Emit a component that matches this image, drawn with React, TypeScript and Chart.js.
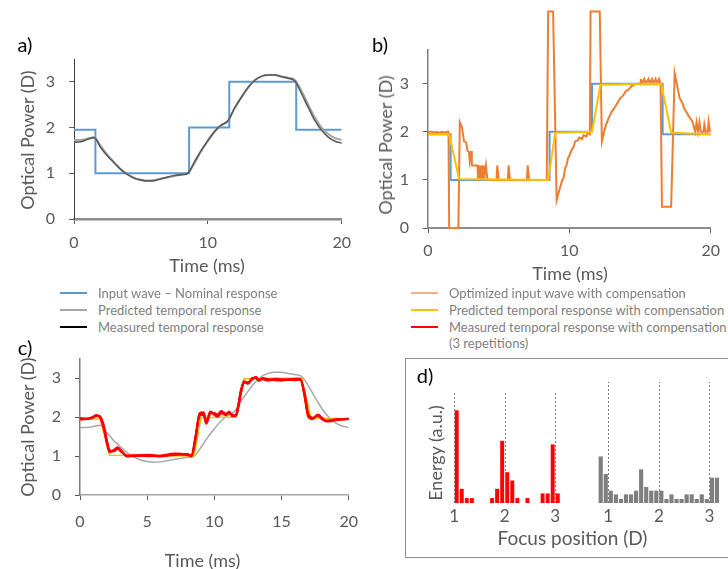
import React, { useEffect, useRef } from 'react';
import { Chart, registerables } from 'chart.js';
Chart.register(...registerables);

const FONT = 'Lato, "Open Sans", sans-serif';

// ---------- data ----------
const respTimes = [0, 0.5, 1, 1.5, 2, 2.5, 3, 3.5, 4, 4.5, 5, 5.5, 6, 6.5, 7, 7.5, 8, 8.5, 9, 9.5, 10, 10.5, 11, 11.5, 12, 12.5, 13, 13.5, 14, 14.5, 15, 15.5, 16, 16.5, 17, 17.5, 18, 18.5, 19, 19.5, 20];
const predictedResponse = [1.73, 1.73, 1.76, 1.79, 1.6, 1.4, 1.24, 1.09, 0.98, 0.9, 0.86, 0.84, 0.85, 0.88, 0.91, 0.94, 0.97, 1.0, 1.22, 1.48, 1.7, 1.9, 2.04, 2.14, 2.42, 2.66, 2.88, 3.04, 3.12, 3.15, 3.15, 3.12, 3.09, 3.04, 2.8, 2.5, 2.22, 2.0, 1.86, 1.77, 1.73];
const measuredResponse = [1.68, 1.69, 1.74, 1.78, 1.56, 1.38, 1.23, 1.08, 0.97, 0.89, 0.85, 0.83, 0.84, 0.88, 0.92, 0.95, 0.97, 1.0, 1.25, 1.5, 1.72, 1.92, 2.06, 2.15, 2.43, 2.66, 2.87, 3.03, 3.12, 3.15, 3.15, 3.11, 3.08, 3.02, 2.74, 2.44, 2.15, 1.94, 1.79, 1.7, 1.66];

const inputStepTimes = [0, 1.6, 8.6, 11.6, 16.6, 20];
const inputStepValues = [1.95, 1.0, 2.0, 3.0, 1.95, 1.95];

const compPredTimes = [0, 1.5, 2.2, 8.5, 9.0, 11.6, 12.2, 16.5, 17.2, 20];
const compPredValues = [1.95, 1.95, 1.02, 1.0, 1.98, 2.0, 2.98, 3.0, 1.98, 1.95];

const optInputTimes = [0, 0.3, 0.4, 0.6, 0.8, 1.0, 1.2, 1.3, 1.45, 1.5, 2.15, 2.25, 2.4, 2.55, 2.7, 2.8, 2.9, 2.95, 3.05, 3.1, 3.5, 3.55, 3.6, 3.7, 3.75, 3.8, 3.9, 3.95, 4.1, 4.2, 4.85, 4.9, 5.0, 5.65, 5.7, 5.8, 7.0, 7.05, 7.15, 8.4, 8.5, 8.85, 9.1, 9.3, 9.5, 9.6, 9.7, 9.8, 9.9, 10.0, 10.15, 10.3, 10.4, 10.6, 10.7, 10.9, 11.0, 11.2, 11.3, 11.45, 11.5, 12.15, 12.3, 12.5, 12.6, 12.8, 13.0, 13.2, 13.4, 13.6, 13.8, 14.0, 14.2, 14.4, 14.6, 14.8, 15.0, 15.05, 15.1, 15.3, 15.4, 15.6, 15.7, 15.85, 15.95, 16.1, 16.2, 16.35, 16.45, 16.55, 17.2, 17.45, 17.6, 17.8, 18.0, 18.1, 18.3, 18.5, 18.7, 18.9, 19.0, 19.1, 19.2, 19.3, 19.5, 19.55, 19.65, 19.8, 19.85, 19.95, 20];
const optInputValues = [2.0, 2.0, 1.98, 2.0, 1.98, 2.0, 1.98, 2.0, 2.0, 0, 0, 2.2, 2.1, 1.8, 1.78, 1.6, 1.58, 1.4, 1.6, 1.3, 1.3, 1.0, 1.3, 1.0, 1.3, 1.0, 1.3, 1.0, 1.3, 1.0, 1.0, 1.3, 1.0, 1.0, 1.3, 1.0, 1.0, 1.3, 1.0, 1.0, 4.5, 4.5, 0.58, 0.8, 1.0, 1.05, 1.25, 1.3, 1.45, 1.5, 1.62, 1.68, 1.8, 1.82, 1.88, 1.85, 1.93, 1.9, 1.98, 1.95, 4.5, 4.5, 1.8, 2.05, 2.15, 2.3, 2.42, 2.5, 2.6, 2.7, 2.75, 2.85, 2.88, 2.95, 2.98, 3.0, 3.0, 3.1, 3.0, 3.1, 3.0, 3.1, 3.0, 3.1, 3.0, 3.1, 3.0, 3.1, 3.0, 0.44, 0.44, 3.22, 3.0, 2.7, 2.6, 2.5, 2.4, 2.3, 2.22, 2.0, 2.2, 2.0, 2.2, 2.0, 2.0, 2.15, 2.0, 2.0, 2.2, 2.0, 2.0];

const measCompTimes = [0, 0.5, 1.0, 1.2, 1.5, 1.8, 2.0, 2.2, 2.5, 2.8, 3.1, 3.5, 4.0, 5.0, 6.0, 7.0, 8.0, 8.3, 8.6, 8.9, 9.2, 9.4, 9.7, 10.0, 10.25, 10.5, 10.85, 11.1, 11.35, 11.6, 12.0, 12.2, 12.5, 12.8, 13.1, 13.3, 13.6, 14.0, 14.5, 15.0, 16.0, 16.4, 16.7, 17.0, 17.3, 17.7, 18.0, 18.3, 18.6, 19.0, 20];
const measComp1 = [1.96, 1.95, 2.0, 2.04, 2.0, 1.7, 1.36, 1.12, 1.14, 1.2, 1.12, 1.0, 1.0, 1.02, 0.99, 1.05, 1.04, 1.0, 1.48, 2.07, 2.1, 1.86, 2.12, 2.08, 2.03, 2.12, 2.07, 2.12, 2.04, 2.04, 2.69, 2.9, 2.87, 2.98, 3.02, 2.94, 2.99, 2.96, 2.96, 2.95, 2.97, 2.97, 2.6, 2.03, 1.96, 2.05, 1.97, 1.9, 1.9, 1.93, 1.95];
const measComp2 = [1.94, 1.95, 1.99, 2.03, 2.02, 1.74, 1.4, 1.15, 1.12, 1.18, 1.1, 1.01, 1.01, 1.03, 1.0, 1.03, 1.05, 1.01, 1.5, 2.03, 2.06, 1.83, 2.1, 2.1, 2.06, 2.15, 2.09, 2.1, 2.06, 2.02, 2.65, 2.92, 2.85, 3.0, 3.0, 2.96, 2.97, 2.94, 2.98, 2.97, 2.95, 2.96, 2.64, 2.06, 1.98, 2.03, 1.95, 1.91, 1.92, 1.94, 1.95];
const measComp3 = [1.97, 1.96, 2.01, 2.05, 1.98, 1.66, 1.33, 1.1, 1.15, 1.22, 1.13, 0.99, 1.02, 1.0, 1.01, 1.06, 1.03, 0.99, 1.45, 2.1, 2.12, 1.88, 2.14, 2.06, 2.01, 2.1, 2.05, 2.14, 2.02, 2.05, 2.72, 2.88, 2.89, 2.96, 3.03, 2.93, 3.0, 2.97, 2.95, 2.94, 2.98, 2.98, 2.56, 2.0, 1.95, 2.06, 1.98, 1.89, 1.89, 1.92, 1.96];

const focusRedPos = [1.05, 1.15, 1.25, 1.35, 1.75, 1.85, 1.95, 2.05, 2.15, 2.25, 2.45, 2.75, 2.85, 2.95, 3.05];
const focusRedEnergy = [1.0, 0.15, 0.05, 0.05, 0.05, 0.15, 0.67, 0.33, 0.24, 0.05, 0.05, 0.1, 0.1, 0.63, 0.1];
const focusGreyPos = [0.85, 0.95, 1.05, 1.15, 1.25, 1.35, 1.45, 1.55, 1.65, 1.75, 1.85, 1.95, 2.05, 2.15, 2.25, 2.35, 2.45, 2.55, 2.65, 2.75, 2.85, 2.95, 3.05, 3.15];
const focusGreyEnergy = [0.5, 0.31, 0.13, 0.09, 0.04, 0.09, 0.09, 0.13, 0.36, 0.17, 0.13, 0.13, 0.13, 0.04, 0.09, 0.04, 0.04, 0.09, 0.09, 0.04, 0.09, 0.04, 0.27, 0.27];
const focusTargets = [1, 2, 3];
const redTargetTop = 1.19;
const greyTargetTop = 1.31;

const powerTicks = [0, 1, 2, 3];
const timeTicksAB = [0, 10, 20];
const timeTicksC = [0, 5, 10, 15, 20];

// ---------- helpers ----------
const pts = (xs: number[], ys: number[]) => xs.map((x, i) => ({ x, y: ys[i] }));

const GREY_OFFSET = 3.05;

function axisX(ticks: number[], borderColor: string, borderWidth: number, height: number, pad: number) {
  return {
    type: 'linear',
    min: ticks[0],
    max: ticks[ticks.length - 1],
    afterBuildTicks: (s: any) => { s.ticks = ticks.map((v) => ({ value: v })); },
    afterFit: (s: any) => { s.height = height; },
    grid: { display: true, drawOnChartArea: false, drawTicks: true, tickLength: 5, color: '#595959', tickColor: '#595959', lineWidth: 1 },
    border: { display: true, color: borderColor, width: borderWidth },
    ticks: { color: '#595959', font: { family: FONT, size: 16 }, padding: pad, maxRotation: 0 },
  };
}
function axisY(max: number, borderColor: string, borderWidth: number, width: number) {
  return {
    type: 'linear',
    min: 0,
    max,
    afterBuildTicks: (s: any) => { s.ticks = powerTicks.map((v) => ({ value: v })); },
    afterFit: (s: any) => { s.width = width; },
    grid: { display: true, drawOnChartArea: false, drawTicks: true, tickLength: 5, color: '#595959', tickColor: '#595959', lineWidth: 1 },
    border: { display: true, color: borderColor, width: borderWidth },
    ticks: { color: '#595959', font: { family: FONT, size: 16 }, padding: 14 },
  };
}

const line = (data: any[], color: string, width: number, smooth: boolean, extra: any = {}) => ({
  data,
  borderColor: color,
  backgroundColor: color,
  borderWidth: width,
  pointRadius: 0,
  fill: false,
  tension: 0,
  cubicInterpolationMode: smooth ? 'monotone' : 'default',
  ...extra,
});

const baseOpts = (pad: any, scales: any) => ({
  responsive: false,
  animation: false,
  devicePixelRatio: 1,
  layout: { padding: pad },
  plugins: { legend: { display: false }, tooltip: { enabled: false } },
  scales,
});

function configA() {
  return {
    type: 'line',
    data: {
      datasets: [
        line(pts(respTimes, measuredResponse), '#595959', 1.6, true),
        line(pts(respTimes, predictedResponse), '#A6A6A6', 2, true),
        line(pts(inputStepTimes, inputStepValues), '#5B9BD5', 2, false, { stepped: 'before' }),
      ],
    },
    options: baseOpts({ top: 59, right: 14, left: 0, bottom: 0 }, {
      x: axisX(timeTicksAB, '#8C8C8C', 2.5, 66, 9),
      y: axisY(3.5, '#404040', 1, 74),
    }),
  };
}
function configB() {
  return {
    type: 'line',
    data: {
      datasets: [
        line(pts(compPredTimes, compPredValues), '#FFC000', 2, false),
        line(pts(optInputTimes, optInputValues), '#ED7D31', 2, false, { clip: false }),
        line(pts(inputStepTimes, inputStepValues), '#5B9BD5', 2, false, { stepped: 'before' }),
      ],
    },
    options: baseOpts({ top: 50, right: 17, left: 0, bottom: 0 }, {
      x: axisX(timeTicksAB, '#8C8C8C', 2, 57, 8),
      y: axisY(3.7, '#7F7F7F', 1.5, 68),
    }),
  };
}
function configC() {
  return {
    type: 'line',
    data: {
      datasets: [
        line(pts(measCompTimes, measComp1), '#FF0000', 2.2, true),
        line(pts(measCompTimes, measComp2), '#FF0000', 2.2, true),
        line(pts(measCompTimes, measComp3), '#FF0000', 2.2, true),
        line(pts(compPredTimes, compPredValues), '#FFC000', 1.5, false),
        line(pts(respTimes, predictedResponse), '#A6A6A6', 1.5, true),
      ],
    },
    options: baseOpts({ top: 19, right: 20, left: 0, bottom: 0 }, {
      x: axisX(timeTicksC, '#A6A6A6', 1.5, 74, 12),
      y: axisY(3.5, '#7F7F7F', 1.5, 80),
    }),
  };
}

const dashPlugin = {
  id: 'focusTargets',
  afterDatasetsDraw(chart: any) {
    const { ctx, scales } = chart;
    const x = scales.x, y = scales.y;
    ctx.save();
    ctx.setLineDash([2, 2]);
    ctx.strokeStyle = '#7F7F7F';
    ctx.lineWidth = 1;
    const draw = (pos: number, top: number) => {
      const px = Math.round(x.getPixelForValue(pos)) + 0.5;
      ctx.beginPath();
      ctx.moveTo(px, y.getPixelForValue(0));
      ctx.lineTo(px, y.getPixelForValue(top));
      ctx.stroke();
    };
    focusTargets.forEach((f) => draw(f, redTargetTop));
    focusTargets.forEach((f) => draw(f + GREY_OFFSET, greyTargetTop));
    ctx.restore();
  },
};

function configD() {
  const tickVals = [...focusTargets, ...focusTargets.map((f) => f + GREY_OFFSET)];
  return {
    type: 'bar',
    data: {
      datasets: [
        { data: pts(focusRedPos, focusRedEnergy), backgroundColor: '#FF0000', barThickness: 3.3, grouped: false },
        { data: pts(focusGreyPos.map((p) => p + GREY_OFFSET), focusGreyEnergy), backgroundColor: '#7F7F7F', barThickness: 3.5, grouped: false },
      ],
    },
    options: {
      ...baseOpts({ top: 22, right: 6, left: 0, bottom: 0 }, {
        x: {
          type: 'linear',
          offset: false,
          min: 0.7,
          max: 6.3,
          afterBuildTicks: (s: any) => { s.ticks = tickVals.map((v) => ({ value: v })); },
          afterFit: (s: any) => { s.height = 54; },
          grid: { display: false, drawTicks: false },
          border: { display: false },
          ticks: {
            color: '#595959',
            font: { family: FONT, size: 17 },
            padding: 3,
            callback: (v: number) => String(Math.round(v > 3.5 ? v - GREY_OFFSET : v)),
          },
        },
        y: {
          min: 0,
          max: 1.32,
          afterFit: (s: any) => { s.width = 34; },
          grid: { display: false, drawTicks: false },
          border: { display: false },
          ticks: { display: false },
        },
      }),
    },
    plugins: [dashPlugin],
  };
}

function ChartCanvas({ left, top, width, height, make }: any) {
  const ref = useRef<HTMLCanvasElement>(null);
  useEffect(() => {
    const chart = new Chart(ref.current as HTMLCanvasElement, make());
    return () => chart.destroy();
  }, []);
  return (
    <canvas ref={ref} width={width} height={height}
      style={{ position: 'absolute', left, top, width, height }} />
  );
}

const textBase: any = { position: 'absolute', whiteSpace: 'nowrap', fontFamily: FONT, lineHeight: 1 };

function Label({ x, y, text, size, color = '#595959', rotate = false }: any) {
  return (
    <div style={{ ...textBase, left: x, top: y, fontSize: size, color,
      transform: `translate(-50%, -50%)${rotate ? ' rotate(-90deg)' : ''}` }}>{text}</div>
  );
}

function LegendRow({ x, y, color, text }: any) {
  return (
    <div style={{ ...textBase, left: x, top: y - 8, height: 16, display: 'flex', alignItems: 'center', fontSize: 13, color: '#7F7F7F' }}>
      <span style={{ display: 'inline-block', width: 27, height: 2.5, background: color, marginRight: 11 }} />
      <span>{text}</span>
    </div>
  );
}

export default function App() {
  return (
    <div style={{ position: 'fixed', left: 0, top: 0, width: 728, height: 569, overflow: 'hidden', background: '#fff' }}>
      <ChartCanvas left={0} top={0} width={360} height={285} make={configA} />
      <ChartCanvas left={360} top={0} width={368} height={285} make={configB} />
      <ChartCanvas left={0} top={335} width={370} height={234} make={configC} />
      <div style={{ position: 'absolute', left: 405, top: 358, width: 340, height: 198, border: '1.5px solid #8C8C8C' }} />
      <ChartCanvas left={405} top={359} width={323} height={198} make={configD} />

      <Label x={25} y={44} text="a)" size={20} color="#000" />
      <Label x={380} y={44} text="b)" size={20} color="#000" />
      <Label x={25} y={347} text="c)" size={20} color="#000" />
      <Label x={425} y={375} text="d)" size={20} color="#000" />

      <Label x={27} y={139.5} text="Optical Power (D)" size={18} rotate />
      <Label x={207} y={265} text="Time (ms)" size={18} />
      <Label x={385} y={144.5} text="Optical Power (D)" size={18} rotate />
      <Label x={570} y={273} text="Time (ms)" size={18} />
      <Label x={27} y={426.5} text="Optical Power (D)" size={18} rotate />
      <Label x={202.5} y={560} text="Time (ms)" size={18} />
      <Label x={435} y={453} text="Energy (a.u.)" size={18} rotate />
      <Label x={572.5} y={537} text="Focus position (D)" size={19} />

      <LegendRow x={60} y={293} color="#5B9BD5" text="Input wave – Nominal response" />
      <LegendRow x={60} y={310} color="#A6A6A6" text="Predicted temporal response" />
      <LegendRow x={60} y={327} color="#000000" text="Measured temporal response" />
      <LegendRow x={411} y={293} color="#F4B183" text="Optimized input wave with compensation" />
      <LegendRow x={411} y={310} color="#FFC000" text="Predicted temporal response with compensation" />
      <LegendRow x={411} y={327} color="#FF0000" text="Measured temporal response with compensation" />
      <div style={{ ...textBase, left: 449, top: 343 - 8, height: 16, display: 'flex', alignItems: 'center', fontSize: 13, color: '#7F7F7F' }}>(3 repetitions)</div>
    </div>
  );
}
